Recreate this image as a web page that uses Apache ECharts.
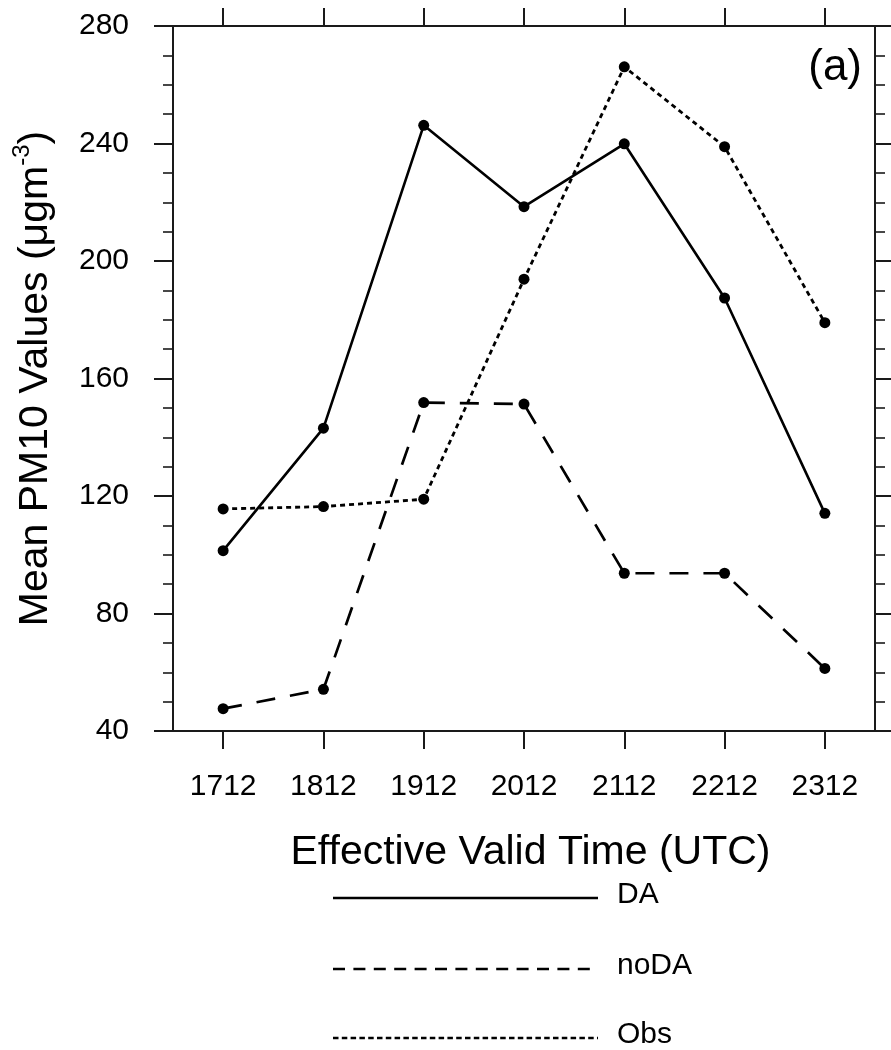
<!DOCTYPE html>
<html>
<head>
<meta charset="utf-8">
<title>Mean PM10 Values</title>
<script src="https://cdn.jsdelivr.net/npm/echarts@6/dist/echarts.min.js"></script>
<style>
  html, body { margin: 0; padding: 0; background: #ffffff; }
  #chart { width: 891px; height: 1050px; }
</style>
</head>
<body>
<div id="chart"></div>
<script>
// Forecast valid times (day + hour, UTC)
const categories = ['1712', '1812', '1912', '2012', '2112', '2212', '2312'];

// Mean PM10 concentrations (µg m^-3)
const daValues   = [101.4, 143.1, 246.2, 218.5, 239.9, 187.4, 114.1];
const noDaValues = [47.6, 54.2, 151.8, 151.3, 93.7, 93.7, 61.3];
const obsValues  = [115.6, 116.4, 118.9, 193.8, 266.1, 238.9, 179.0];

// Y axis range and step
const yMin = 40;
const yMax = 280;
const yStep = 40;

// Legend entries
const legendNames = ['DA', 'noDA', 'Obs'];

const FONT = '"Liberation Sans", Arial, Helvetica, sans-serif';
const AXIS_COLOR = '#1a1a1a';
const INK = '#000000';

const dashNoDA = [19, 15];
const dashObs = [5, 4];

const axisLineStyle = { color: AXIS_COLOR, width: 2 };

const chart = echarts.init(document.getElementById('chart'), null, { renderer: 'canvas' });

function lineSeries(name, values, dash, width) {
  return {
    name: name,
    type: 'line',
    xAxisIndex: 0,
    yAxisIndex: 0,
    data: values,
    symbol: 'circle',
    symbolSize: 11,
    showSymbol: true,
    itemStyle: { color: INK },
    lineStyle: { color: INK, width: width, type: dash },
    emphasis: { disabled: true },
    animation: false
  };
}

// Legend drawn as plain line samples with labels underneath the plot
const legendRows = [
  { y: 898, dash: null, width: 2.4 },
  { y: 969, dash: [12, 8.4], width: 2.4 },
  { y: 1038, dash: [5.5, 3.3], width: 2.4 }
];
const legendGraphics = [];
legendRows.forEach(function (row, i) {
  legendGraphics.push({
    type: 'line',
    shape: { x1: 333, y1: row.y, x2: 598, y2: row.y },
    style: { stroke: INK, lineWidth: row.width, lineDash: row.dash }
  });
  legendGraphics.push({
    type: 'text',
    x: 617,
    y: row.y - 3,
    style: {
      text: legendNames[i],
      font: '30px ' + FONT,
      fill: INK,
      textAlign: 'left',
      textVerticalAlign: 'middle'
    }
  });
});

const option = {
  backgroundColor: '#ffffff',
  animation: false,
  grid: { left: 172, right: 16, top: 26, bottom: 319, containLabel: false },
  xAxis: [
    {
      type: 'category',
      position: 'bottom',
      data: categories,
      boundaryGap: true,
      axisLine: { show: true, lineStyle: axisLineStyle },
      axisTick: { show: true, inside: false, length: 18, alignWithLabel: true, lineStyle: axisLineStyle },
      axisLabel: { show: true, margin: 41, fontSize: 30, fontFamily: FONT, color: INK },
      splitLine: { show: false },
      name: 'Effective Valid Time (UTC)',
      nameLocation: 'middle',
      nameGap: 101,
      nameTextStyle: { fontSize: 41, fontFamily: FONT, color: INK, padding: [0, 0, 0, 13] }
    },
    {
      type: 'category',
      position: 'top',
      data: categories,
      boundaryGap: true,
      axisLine: { show: true, lineStyle: axisLineStyle },
      axisTick: { show: true, inside: false, length: 18, alignWithLabel: true, lineStyle: axisLineStyle },
      axisLabel: { show: false },
      splitLine: { show: false }
    }
  ],
  yAxis: [
    {
      type: 'value',
      position: 'left',
      min: yMin,
      max: yMax,
      interval: yStep,
      axisLine: { show: true, lineStyle: axisLineStyle },
      axisTick: { show: true, inside: false, length: 19, lineStyle: axisLineStyle },
      minorTick: { show: true, splitNumber: 4, length: 10, lineStyle: { color: AXIS_COLOR, width: 1.6 } },
      axisLabel: { show: true, margin: 44, fontSize: 30, fontFamily: FONT, color: INK, padding: [8, 0, 0, 0] },
      splitLine: { show: false },
      minorSplitLine: { show: false },
      name: '{t|Mean PM10 Values (μgm}{s|-3}{t|)}',
      nameLocation: 'middle',
      nameGap: 117,
      nameTextStyle: {
        color: INK,
        fontFamily: FONT,
        fontSize: 41,
        rich: {
          t: { fontSize: 41, fontFamily: FONT, color: INK, lineHeight: 48, verticalAlign: 'bottom' },
          s: { fontSize: 24, fontFamily: FONT, color: INK, lineHeight: 48, verticalAlign: 'top', padding: [2, 0, 0, 0] }
        }
      }
    },
    {
      type: 'value',
      position: 'right',
      min: yMin,
      max: yMax,
      interval: yStep,
      axisLine: { show: true, lineStyle: axisLineStyle },
      axisTick: { show: true, inside: false, length: 17, lineStyle: axisLineStyle },
      minorTick: { show: true, splitNumber: 4, length: 10, lineStyle: { color: AXIS_COLOR, width: 1.6 } },
      axisLabel: { show: false },
      splitLine: { show: false },
      minorSplitLine: { show: false }
    }
  ],
  series: [
    lineSeries('DA', daValues, 'solid', 2.6),
    lineSeries('noDA', noDaValues, dashNoDA, 2.7),
    lineSeries('Obs', obsValues, dashObs, 2.8)
  ],
  graphic: [
    {
      type: 'text',
      right: 29,
      top: 46,
      style: {
        text: '(a)',
        font: '44px ' + FONT,
        fill: INK
      }
    }
  ].concat(legendGraphics)
};

chart.setOption(option);
</script>
</body>
</html>
